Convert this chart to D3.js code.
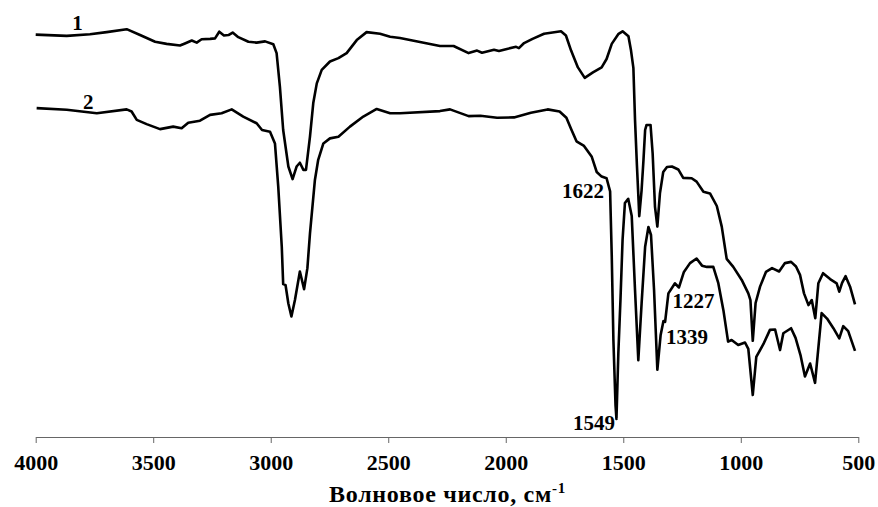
<!DOCTYPE html>
<html>
<head>
<meta charset="utf-8">
<script src="https://cdn.jsdelivr.net/npm/d3@7"></script>
<style>
  body { margin: 0; background: #fff; }
  .curve { fill: none; stroke: #000; stroke-width: 2.6; stroke-linejoin: round; }
  .lbl { font-family: "Liberation Serif", "Times New Roman", serif; font-weight: bold; font-size: 21px; fill: #000; }
  .axis text { font-family: "Liberation Serif", "Times New Roman", serif; font-weight: bold; font-size: 22px; fill: #000; }
  .axis path, .axis line { stroke: #666; stroke-width: 1; }
</style>
</head>
<body>
<script>
// Wavenumber ticks, cm-1
var tickValues = [4000, 3500, 3000, 2500, 2000, 1500, 1000, 500];

// Spectrum 1 (upper) - wavenumber
var wn1 = [4000, 3868, 3769, 3698, 3613, 3556, 3492, 3443, 3386, 3365, 3336, 3315, 3294, 3258, 3237, 3219,
  3199, 3180, 3162, 3138, 3095, 3060, 3024, 2989, 2975, 2961, 2947, 2925, 2907, 2890, 2876, 2861, 2850,
  2833, 2819, 2804, 2783, 2748, 2712, 2677, 2634, 2592, 2535, 2492, 2450, 2280, 2222, 2158, 2122, 2101,
  2050, 2029, 1995, 1956, 1944, 1922, 1886, 1837, 1765, 1744, 1722, 1693, 1664, 1629, 1592, 1571, 1549,
  1520, 1503, 1478, 1467, 1457, 1450, 1442, 1435, 1432, 1422, 1414, 1407, 1401, 1384, 1375, 1365, 1355,
  1344, 1330, 1314, 1293, 1266, 1245, 1209, 1188, 1159, 1131, 1102, 1081, 1060, 1032, 996, 968, 959,
  949, 937, 918, 893, 867, 837, 812, 786, 765, 748, 731, 712, 698, 683, 670, 650, 620, 592, 581, 569,
  554, 535, 514];
// Spectrum 1 - transmittance, %
var tr1 = [95.8, 95.5, 95.9, 96.4, 97.1, 95.7, 94.1, 93.6, 93.2, 93.7, 94.4, 93.9, 94.7, 94.8, 94.9, 96.5,
  95.6, 95.7, 96.3, 95.2, 94.1, 93.9, 94.2, 93.5, 91.4, 83.4, 73.1, 64.4, 61.4, 64.4, 65.3, 63.6, 63.6,
  71.5, 79.5, 84.2, 87.4, 89.4, 90.2, 91.4, 94.5, 96.4, 96.0, 95.3, 95.0, 93.1, 93.1, 91.4, 92.0, 91.5,
  92.2, 91.9, 92.4, 92.9, 92.6, 93.8, 94.8, 96.0, 96.6, 95.6, 92.0, 88.0, 85.5, 86.8, 88.0, 90.0, 93.6,
  96.0, 96.6, 95.4, 92.0, 87.9, 75.5, 64.8, 56.4, 52.6, 58.8, 66.0, 73.1, 74.3, 74.3, 67.5, 54.8, 50.1,
  58.0, 63.1, 64.3, 64.4, 63.7, 61.7, 61.6, 60.8, 58.4, 58.0, 55.0, 50.1, 42.4, 40.5, 37.4, 34.2, 32.6,
  22.9, 31.9, 35.8, 39.3, 40.2, 39.4, 41.4, 41.7, 40.6, 38.6, 34.2, 31.4, 32.6, 28.3, 36.6, 39.0, 37.6,
  36.6, 34.6, 36.7, 38.3, 35.8, 31.6];

// Spectrum 2 (lower) - wavenumber
var wn2 = [3996, 3868, 3740, 3613, 3592, 3570, 3528, 3471, 3415, 3379, 3351, 3301, 3258, 3209, 3166, 3117,
  3060, 3037, 3003, 2982, 2968, 2953, 2947, 2937, 2925, 2912, 2897, 2876, 2858, 2844, 2833, 2812, 2798,
  2776, 2748, 2712, 2663, 2606, 2549, 2492, 2450, 2280, 2237, 2158, 2108, 2037, 1965, 1893, 1822, 1771,
  1742, 1721, 1699, 1667, 1634, 1613, 1592, 1571, 1556, 1549, 1542, 1533, 1529, 1521, 1512, 1503, 1493,
  1479, 1464, 1450, 1436, 1422, 1407, 1393, 1382, 1369, 1355, 1341, 1329, 1322, 1308, 1280, 1263, 1242,
  1216, 1188, 1165, 1144, 1117, 1096, 1074, 1054, 1039, 1011, 982, 968, 949, 934, 904, 876, 854, 833,
  819, 786, 767, 746, 727, 705, 684, 656, 633, 606, 581, 564, 543, 514];
// Spectrum 2 - transmittance, %
var tr2 = [78.3, 77.9, 77.1, 78.0, 77.5, 75.5, 74.5, 73.3, 73.9, 73.5, 74.8, 75.3, 76.7, 77.1, 78.0, 76.3,
  74.7, 73.1, 72.7, 69.9, 59.6, 45.3, 36.4, 36.2, 31.8, 28.7, 32.6, 39.4, 35.2, 40.2, 48.5, 61.2, 66.0,
  69.9, 71.1, 71.5, 73.9, 76.3, 78.1, 77.1, 77.1, 77.6, 78.0, 76.4, 76.5, 76.0, 76.1, 77.2, 78.0, 77.5,
  76.0, 73.2, 70.4, 69.3, 66.7, 63.1, 62.0, 61.6, 58.5, 43.1, 23.1, 7.6, 4.3, 19.9, 32.6, 46.9, 55.7,
  56.7, 52.6, 35.0, 18.3, 31.8, 45.3, 50.0, 48.1, 35.0, 16.0, 24.3, 27.6, 27.4, 34.2, 36.6, 35.6, 39.3,
  41.4, 42.5, 40.8, 40.5, 40.5, 36.7, 30.2, 22.7, 23.1, 21.9, 22.5, 21.0, 10.0, 19.1, 22.1, 25.5, 25.6, 20.7,
  24.7, 25.9, 23.6, 19.5, 14.4, 17.5, 12.9, 29.5, 28.2, 25.9, 23.5, 26.4, 25.2, 20.5];

// Annotations: text, wavenumber, transmittance, anchor
var noteText = ["1", "2", "1622", "1549", "1227", "1339"];
var noteWn = [3822, 3776, 1582, 1535, 1291, 1318];
var noteTr = [96.9, 78.1, 56.9, 1.7, 30.7, 22.1];
var noteAnchor = ["middle", "middle", "end", "end", "start", "start"];

(function() {
  var width = 878,
      height = 507;

  var svg = d3.select("body")
      .append("svg")
      .attr("width", width)
      .attr("height", height);

  // Scales (reversed wavenumber axis)
  var x = d3.scaleLinear()
      .domain([4000, 500])
      .range([35.7, 858.3]);
  var y = d3.scaleLinear()
      .domain([0, 100])
      .range([437, 17]);

  var line = d3.line()
      .x(function(d) { return x(d[0]); })
      .y(function(d) { return y(d[1]); });

  var series = [d3.zip(wn1, tr1), d3.zip(wn2, tr2)];

  svg.selectAll(".curve")
      .data(series)
      .enter()
      .append("path")
      .attr("class", "curve")
      .attr("d", line);

  // X axis
  var axis = svg.append("g")
      .attr("class", "axis")
      .attr("transform", "translate(0,437)")
      .call(d3.axisBottom(x)
        .tickValues(tickValues)
        .tickFormat(d3.format("d"))
        .tickSize(6)
        .tickSizeOuter(0));
  axis.attr("font-family", null);
  axis.selectAll("text")
      .attr("dy", null)
      .attr("y", 33);

  // Axis title with superscript
  var title = svg.append("text")
      .attr("class", "lbl")
      .attr("x", 447.5)
      .attr("y", 502)
      .attr("text-anchor", "middle")
      .style("font-size", "24px")
      .style("letter-spacing", "0.7px")
      .text("Волновое число, см");
  title.append("tspan")
      .attr("dy", -9)
      .style("font-size", "15px")
      .text("-1");

  // Curve and peak labels
  svg.selectAll(".note")
      .data(noteText)
      .enter()
      .append("text")
      .attr("class", "lbl note")
      .attr("x", function(d, i) { return x(noteWn[i]); })
      .attr("y", function(d, i) { return y(noteTr[i]); })
      .attr("text-anchor", function(d, i) { return noteAnchor[i]; })
      .text(function(d) { return d; });
})();
</script>
</body>
</html>
